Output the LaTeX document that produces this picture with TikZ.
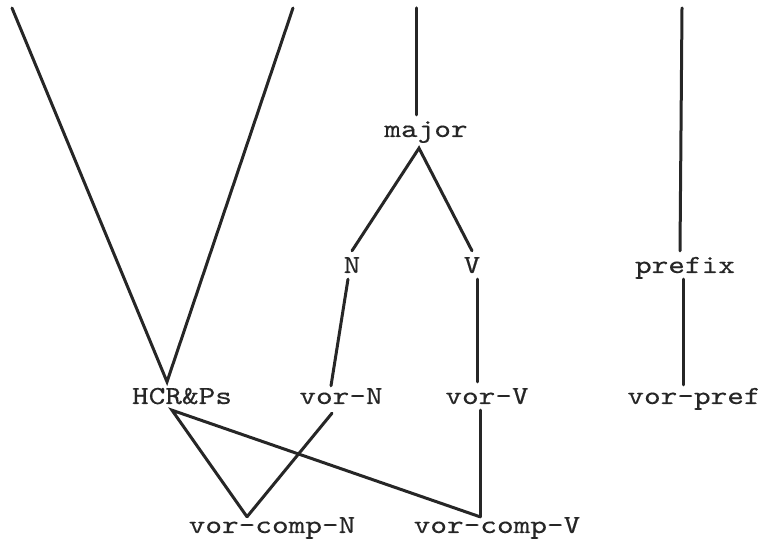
\documentclass[tikz,border=0pt]{standalone}
\usepackage{fontspec}
\newfontfamily\typefont[Extension=.otf,FakeStretch=1.22,FakeBold=0.3]{lmmono10-regular}
\usepackage{tikz}
\usetikzlibrary{calc}
\tikzset{type/.style={font=\typefont\fontsize{26}{30}\selectfont, text=black!85,
    inner xsep=0pt, inner ysep=6pt, text height=16pt, text depth=0pt, anchor=base},
  link/.style={line width=3pt, draw=black!85, line cap=round}}

\begin{document}
\begin{tikzpicture}[x=1pt,y=1pt]
          \useasboundingbox (0,0) rectangle (765,545);
          % top row of the lattice
          \node[type] (major) at (426,408) {major};
          \node[type] (N) at (352,272) {N};
          \node[type] (V) at (472,272) {V};
          \node[type] (prefix) at (685,272) {prefix};
          \node[type] (hcr) at (182,141) {HCR\&Ps};
          \node[type] (vorN) at (341,141) {vor-N};
          \node[type] (vorV) at (487,141) {vor-V};
          \node[type] (vorpref) at (694,141) {vor-pref};
          \node[type] (vorcompN) at (272,12) {vor-comp-N};
          \node[type] (vorcompV) at (497,12) {vor-comp-V};
          % lines running off the top
          \coordinate (topA) at (12,537);
          \coordinate (topB) at (293,537);
          \coordinate (topC) at (416,537);
          \coordinate (topD) at (682,537);
          \begin{scope}[link]
            \draw (topA) -- ([xshift=-15pt]hcr.north) -- (topB);
            \draw (topC) -- ([xshift=-10pt]major.north);
            \draw (topD) -- ([xshift=-5pt]prefix.north);
            \draw (N.north) -- ([xshift=-7pt,yshift=-5pt]major.south) -- (V.north);
            \draw ([xshift=-4pt]N.south) -- ([xshift=-10pt,yshift=-4pt]vorN.north);
            \draw ([xshift=5pt]V.south) -- ([xshift=-10pt]vorV.north);
            \draw ([xshift=-2pt]prefix.south) -- ([xshift=-11pt,yshift=-3pt]vorpref.north);
            \draw ([xshift=-25pt,yshift=-6pt]vorcompN.north) -- ([xshift=-10pt]hcr.south)
              -- ([xshift=-17pt,yshift=-6pt]vorcompV.north);
            \draw ([xshift=-9pt,yshift=-3pt]vorN.south) -- ([xshift=-25pt,yshift=-6pt]vorcompN.north);
            \draw ([xshift=-7pt]vorV.south) -- ([xshift=-17pt,yshift=-6pt]vorcompV.north);
          \end{scope}
        \end{tikzpicture}
\end{document}
